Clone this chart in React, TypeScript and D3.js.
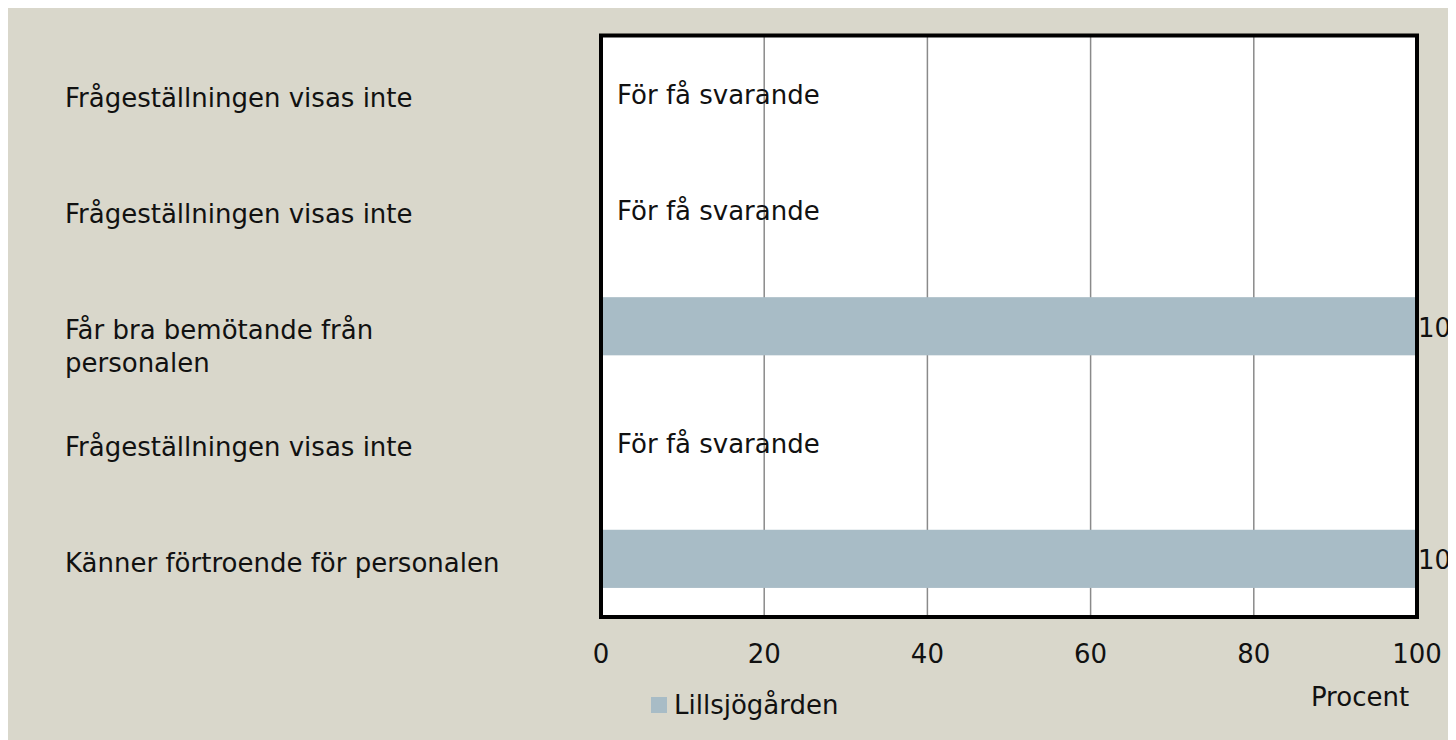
import * as React from "react"
import * as d3 from "d3"

// categories top to bottom, null = too few respondents
const categories: string[] = [
    "Frågeställningen visas inte",
    "Frågeställningen visas inte",
    "Får bra bemötande från\npersonalen",
    "Frågeställningen visas inte",
    "Känner förtroende för personalen",
]
const values: (number | null)[] = [null, null, 100, null, 100]
const xTicks: number[] = [0, 20, 40, 60, 80, 100]
const seriesName = "Lillsjögården"
const missingText = "För få svarande"
const axisTitle = "Procent"

const W = 1460
const H = 740
const margin = { top: 27.5, right: 51, bottom: 131, left: 593 }
const font = "'DejaVu Sans', sans-serif"
const fontSize = 26
const barColor = "#a8bcc6"
const bgColor = "#d9d7cb"

function App(): JSX.Element {
    const ref = React.useRef<SVGSVGElement | null>(null)

    React.useEffect(() => {
        const svg = d3.select(ref.current)
        svg.selectAll("*").remove()

        const x0 = margin.left
        const x1 = W - margin.right
        const y0 = margin.top
        const y1 = H - margin.bottom

        const x = d3.scaleLinear().domain([0, 100]).range([x0, x1])
        const y = d3.scaleBand<number>()
            .domain(d3.range(categories.length))
            .range([y0, y1])
            .paddingInner(0.5)
            .paddingOuter(0.25)

        svg.append("rect").attr("width", W).attr("height", H).attr("fill", bgColor)

        // plot area
        svg.append("rect")
            .attr("x", x0).attr("y", y0)
            .attr("width", x1 - x0).attr("height", y1 - y0)
            .attr("fill", "#fff")

        // gridlines
        svg.append("g")
            .selectAll("line")
            .data(xTicks.filter(t => t > 0 && t < 100))
            .join("line")
            .attr("x1", d => x(d)).attr("x2", d => x(d))
            .attr("y1", y0).attr("y2", y1)
            .attr("stroke", "#8a8a8a")
            .attr("stroke-width", 1.5)

        // bars
        const idx = d3.range(categories.length)
        svg.append("g")
            .selectAll("rect")
            .data(idx.filter(i => values[i] !== null))
            .join("rect")
            .attr("x", x(0))
            .attr("y", i => y(i) as number)
            .attr("width", i => x(values[i] as number) - x(0))
            .attr("height", y.bandwidth())
            .attr("fill", barColor)

        // border
        svg.append("rect")
            .attr("x", x0).attr("y", y0)
            .attr("width", x1 - x0).attr("height", y1 - y0)
            .attr("fill", "none")
            .attr("stroke", "#000")
            .attr("stroke-width", 4)

        const cy = (i: number) => (y(i) as number) + y.bandwidth() / 2

        // value labels / missing text
        svg.append("g")
            .selectAll("text")
            .data(idx)
            .join("text")
            .attr("x", i => values[i] === null ? x(0) + 16 : x(values[i] as number) + 1)
            .attr("y", i => cy(i) + 10.5)
            .attr("font-family", font)
            .attr("font-size", fontSize)
            .attr("fill", "#111")
            .text(i => values[i] === null ? missingText : String(values[i]))

        // category labels
        const lab = svg.append("g")
            .selectAll("text")
            .data(idx)
            .join("text")
            .attr("x", 57)
            .attr("y", i => cy(i) + 13)
            .attr("font-family", font)
            .attr("font-size", fontSize)
            .attr("fill", "#111")
        lab.selectAll("tspan")
            .data(i => categories[i].split("\n"))
            .join("tspan")
            .attr("x", 57)
            .attr("dy", (_d, j) => j === 0 ? 0 : 33)
            .text(d => d)

        // x tick labels
        svg.append("g")
            .selectAll("text")
            .data(xTicks)
            .join("text")
            .attr("x", d => x(d))
            .attr("y", 655)
            .attr("text-anchor", "middle")
            .attr("font-family", font)
            .attr("font-size", fontSize)
            .attr("fill", "#111")
            .text(d => String(d))

        svg.append("text")
            .attr("x", 1352)
            .attr("y", 698)
            .attr("text-anchor", "middle")
            .attr("font-family", font)
            .attr("font-size", fontSize)
            .attr("fill", "#111")
            .text(axisTitle)

        // legend
        svg.append("rect")
            .attr("x", 643).attr("y", 689)
            .attr("width", 16).attr("height", 16)
            .attr("fill", barColor)
        svg.append("text")
            .attr("x", 666).attr("y", 706)
            .attr("font-family", font)
            .attr("font-size", fontSize)
            .attr("fill", "#111")
            .text(seriesName)
    }, [])

    return (
        <div>
            <style>{"html,body{overflow:hidden}"}</style>
            <svg ref={ref} width={W} height={H} style={{ display: "block" }} />
        </div>
    )
}

export default App
